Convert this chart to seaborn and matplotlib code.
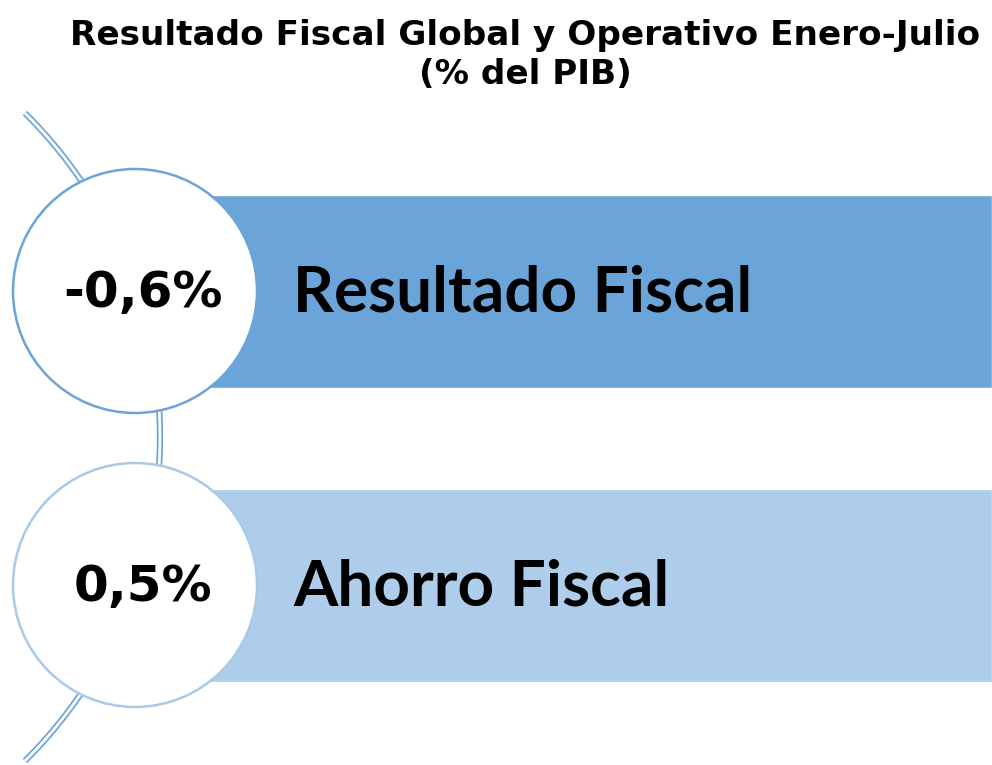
import numpy as np
import pandas as pd
import matplotlib
matplotlib.use("Agg")
import matplotlib.pyplot as plt
import seaborn as sns
from matplotlib.patches import Circle

# data
categories = ["Resultado Fiscal", "Ahorro Fiscal"]
values = [-0.6, 0.5]
value_labels = ["-0,6%", "0,5%"]
bar_colors = ["#6aa4d9", "#aecdea"]
ring_colors = ["#6aa4d9", "#a9c9e8"]
title = "Resultado Fiscal Global y Operativo Enero-Julio\n(% del PIB)"

df = pd.DataFrame({"categoria": categories, "valor": values,
                   "etiqueta": value_labels})
# decorative bars: all span the full width, the value goes in the circle
df["largo"] = 1.0

W, H = 992, 765
sns.set_theme(style="white")
plt.rcParams["font.family"] = ["Lato", "DejaVu Sans"]

fig = plt.figure(figsize=(W / 100, H / 100), dpi=100)

# bars axes: category 0 centred at y=291.5 px, spacing 294 px
row_gap = 294
top_px = 291.5 - row_gap / 2
ax_bars = fig.add_axes([210 / W, 1 - (top_px + 2 * row_gap) / H,
                        (W - 210) / W, 2 * row_gap / H])
sns.barplot(data=df, y="categoria", x="largo", hue="categoria",
            palette=bar_colors, orient="h", width=193 / row_gap,
            legend=False, ax=ax_bars, saturation=1)
ax_bars.set_xlim(0, 1)
ax_bars.set_ylim(1.5, -0.5)
ax_bars.axis("off")

# front axes in pixel coords
ax = fig.add_axes([0, 0, 1, 1])
ax.set_xlim(0, W)
ax.set_ylim(H, 0)
ax.axis("off")
ax.patch.set_alpha(0)

# double-line arc behind the circles
cx, cy, r = -296, 437, 456
t = np.linspace(-0.79, 0.79, 300)
ax.plot(cx + r * np.cos(t), cy + r * np.sin(t), color="#6aa4d9", lw=4.5,
        solid_capstyle="butt", zorder=1)
ax.plot(cx + r * np.cos(t), cy + r * np.sin(t), color="white", lw=2.0,
        solid_capstyle="butt", zorder=1.1)

centers = [(135, 291), (135, 585)]
for i, row in df.iterrows():
    x0, y0 = centers[i]
    ax.add_patch(Circle((x0, y0), 122, facecolor="white",
                        edgecolor=ring_colors[i], lw=1.8, zorder=3))
    ax.text(x0 + 8, y0 + 2, row["etiqueta"], ha="center", va="center",
            fontsize=36, fontweight="bold", family=["DejaVu Sans"],
            color="black", zorder=4)
    ax.text(293, y0 + 2, row["categoria"], ha="left", va="center",
            fontsize=46, fontweight="bold", color="black", zorder=4)

ax.text(525, 55, title, ha="center", va="center", fontsize=24.7,
        fontweight="bold", family=["DejaVu Sans"], linespacing=1.25,
        color="black")

fig.savefig("out.png", dpi=100)
